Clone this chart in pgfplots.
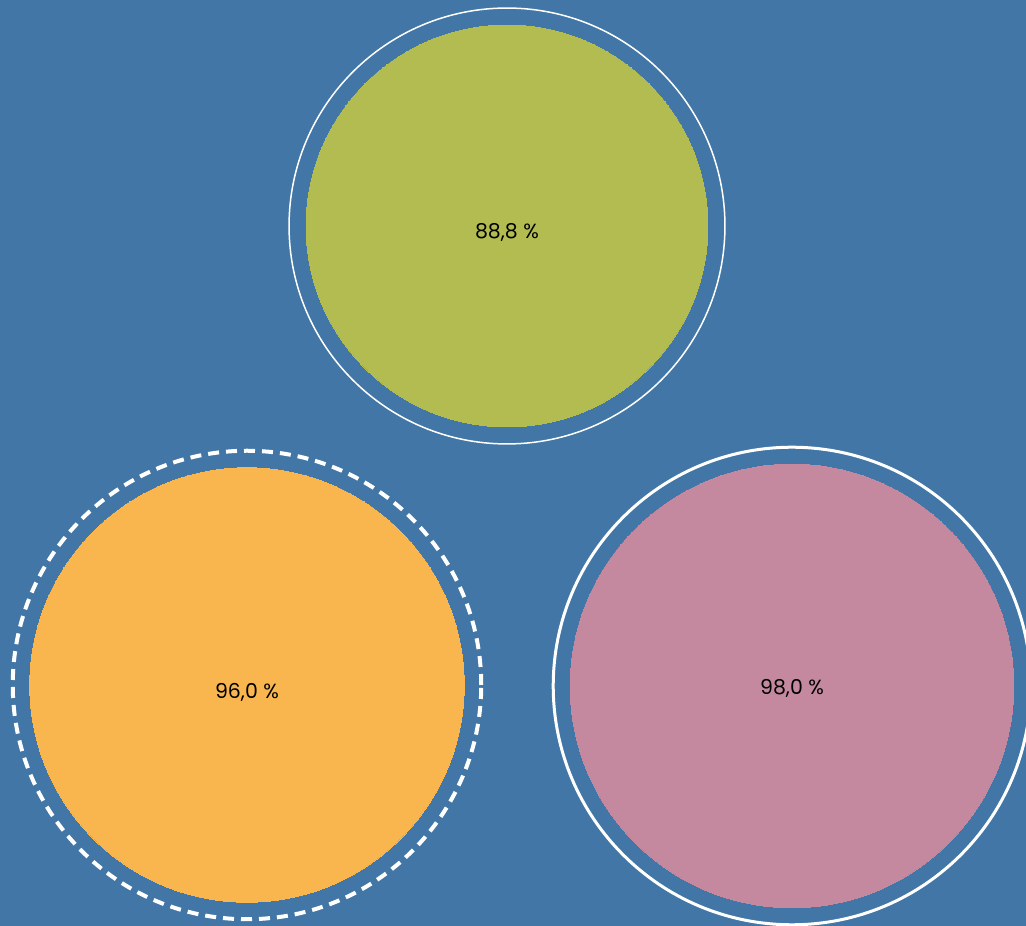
\documentclass[border=0pt]{standalone}
\usepackage{pgfplots}
\usepackage{pgfplotstable}
\pgfplotsset{compat=1.18}
\usepackage{fontspec}
\setmainfont{Poppins}
\definecolor{bg}{HTML}{4276A6}
\definecolor{cgreen}{HTML}{B2BC50}
\definecolor{corange}{HTML}{FAB64E}
\definecolor{cpink}{HTML}{C5899F}
\pgfplotstableread{
x y v
507 700 88.8
}\green
\pgfplotstableread{
x y v
247 241 96.0
}\orange
\pgfplotstableread{
x y v
792 240 98.0
}\pink
\pgfplotsset{
  bubble/.style={scatter, only marks, mark=*,
    mark options={draw=#1, fill=#1, line width=0pt, solid},
    point meta=\thisrow{v},
    visualization depends on={2.263*\thisrow{v} \as \rad},
    scatter/@pre marker code/.code={\pgfsetfillcolor{#1}\pgfsetstrokecolor{#1}\scope[mark size=\rad pt]},
    scatter/@post marker code/.code={\endscope}},
  label/.style={only marks, mark=none,
    point meta=\thisrow{v},
    nodes near coords={\pgfmathprintnumber[fixed,fixed zerofill,precision=1,use comma,assume math mode=true]{\pgfplotspointmeta} \%},
    every node near coord/.append style={anchor=center, text=black, font=\fontsize{20.5}{20.5}\selectfont, yshift=#1}},
  ring/.style n args={2}{scatter, only marks, mark=o,
    mark options={draw=white, line width=#1, #2},
    point meta=\thisrow{v},
    visualization depends on={2.263*\thisrow{v}+17 \as \rad},
    scatter/@pre marker code/.code={\pgfsetstrokecolor{white}\scope[mark size=\rad pt]},
    scatter/@post marker code/.code={\endscope}},
}
\begin{document}
\begin{tikzpicture}
\begin{axis}[name=ax, at={(0,0)}, anchor=south west,
  scale only axis, width=1026pt, height=926pt,
  xmin=0, xmax=1026, ymin=0, ymax=926,
  axis lines=none, ticks=none,
  axis background/.style={fill=bg},
  clip marker paths=true]
\addplot[ring={1.5pt}{solid}] table {\green};
\addplot[ring={4pt}{dash pattern=on 11pt off 7pt}] table {\orange};
\addplot[ring={3pt}{solid}] table {\pink};
\addplot[bubble=cgreen] table {\green};
\addplot[bubble=corange] table {\orange};
\addplot[bubble=cpink] table {\pink};
\addplot[label=-6pt] table {\green};
\addplot[label=-7pt] table {\orange};
\addplot[label=-2pt] table {\pink};
\end{axis}
\pgfresetboundingbox
\path[use as bounding box] (ax.south west) rectangle (ax.north east);
\end{tikzpicture}
\end{document}
